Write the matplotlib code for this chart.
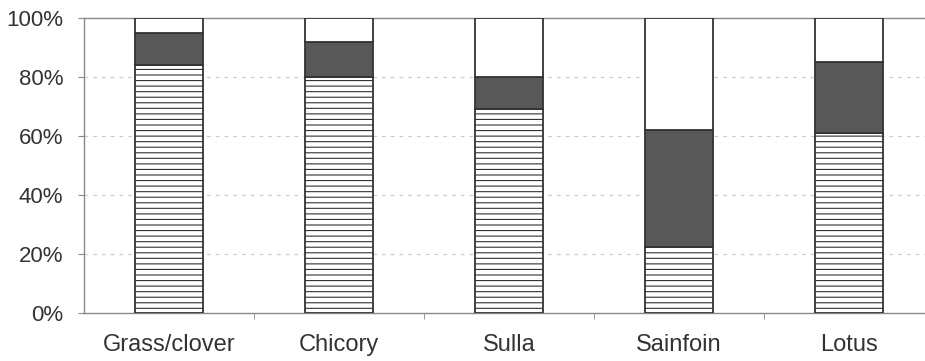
import matplotlib.pyplot as plt
import numpy as np
from matplotlib.ticker import FixedLocator, PercentFormatter

categories = ['Grass/clover', 'Chicory', 'Sulla', 'Sainfoin', 'Lotus']
striped = [84, 80, 69, 22.5, 61]
dark = [11, 12, 11, 39.5, 24]
white = [100 - s - d for s, d in zip(striped, dark)]

plt.rcParams['font.family'] = ['Liberation Sans', 'DejaVu Sans']
plt.rcParams['hatch.linewidth'] = 0.8
plt.rcParams['hatch.color'] = '#444444'

fig = plt.figure(figsize=(9.25, 3.61), dpi=100)
ax = fig.add_axes([84 / 925, 1 - 313 / 361, 841 / 925, 295 / 361])

x = np.arange(len(categories))
w = 0.4
edge = '#333333'
ax.bar(x, striped, w, color='white', edgecolor=edge, hatch='---', linewidth=1.3, zorder=3)
ax.bar(x, dark, w, bottom=striped, color='#585858', edgecolor=edge, linewidth=1.3, zorder=3)
bottoms = [s + d for s, d in zip(striped, dark)]
ax.bar(x, white, w, bottom=bottoms, color='white', edgecolor=edge, linewidth=1.3, zorder=3)

ax.set_ylim(0, 100)
ax.set_xlim(-0.5, -0.5 + 841 / 170)
ax.yaxis.set_major_formatter(PercentFormatter(decimals=0))
ax.set_yticks([0, 20, 40, 60, 80, 100])
ax.set_xticks(x)
ax.set_xticklabels(categories)
ax.xaxis.set_minor_locator(FixedLocator([0.5, 1.5, 2.5, 3.5]))

for y in [20, 40, 60, 80]:
    ax.axhline(y, color='#cccccc', linestyle=(0, (3, 4)), linewidth=0.9, zorder=1)

for s in ['left', 'bottom', 'top']:
    ax.spines[s].set_color('#888888')
    ax.spines[s].set_linewidth(1.0)
ax.spines['right'].set_visible(False)

ax.tick_params(axis='y', length=4, color='#888888', labelsize=16, pad=11, labelcolor='#333333')
ax.tick_params(axis='x', which='major', length=0, labelsize=17, pad=15, labelcolor='#333333')
ax.tick_params(axis='x', which='minor', length=4, color='#888888')

fig.savefig('out.png', dpi=100)
